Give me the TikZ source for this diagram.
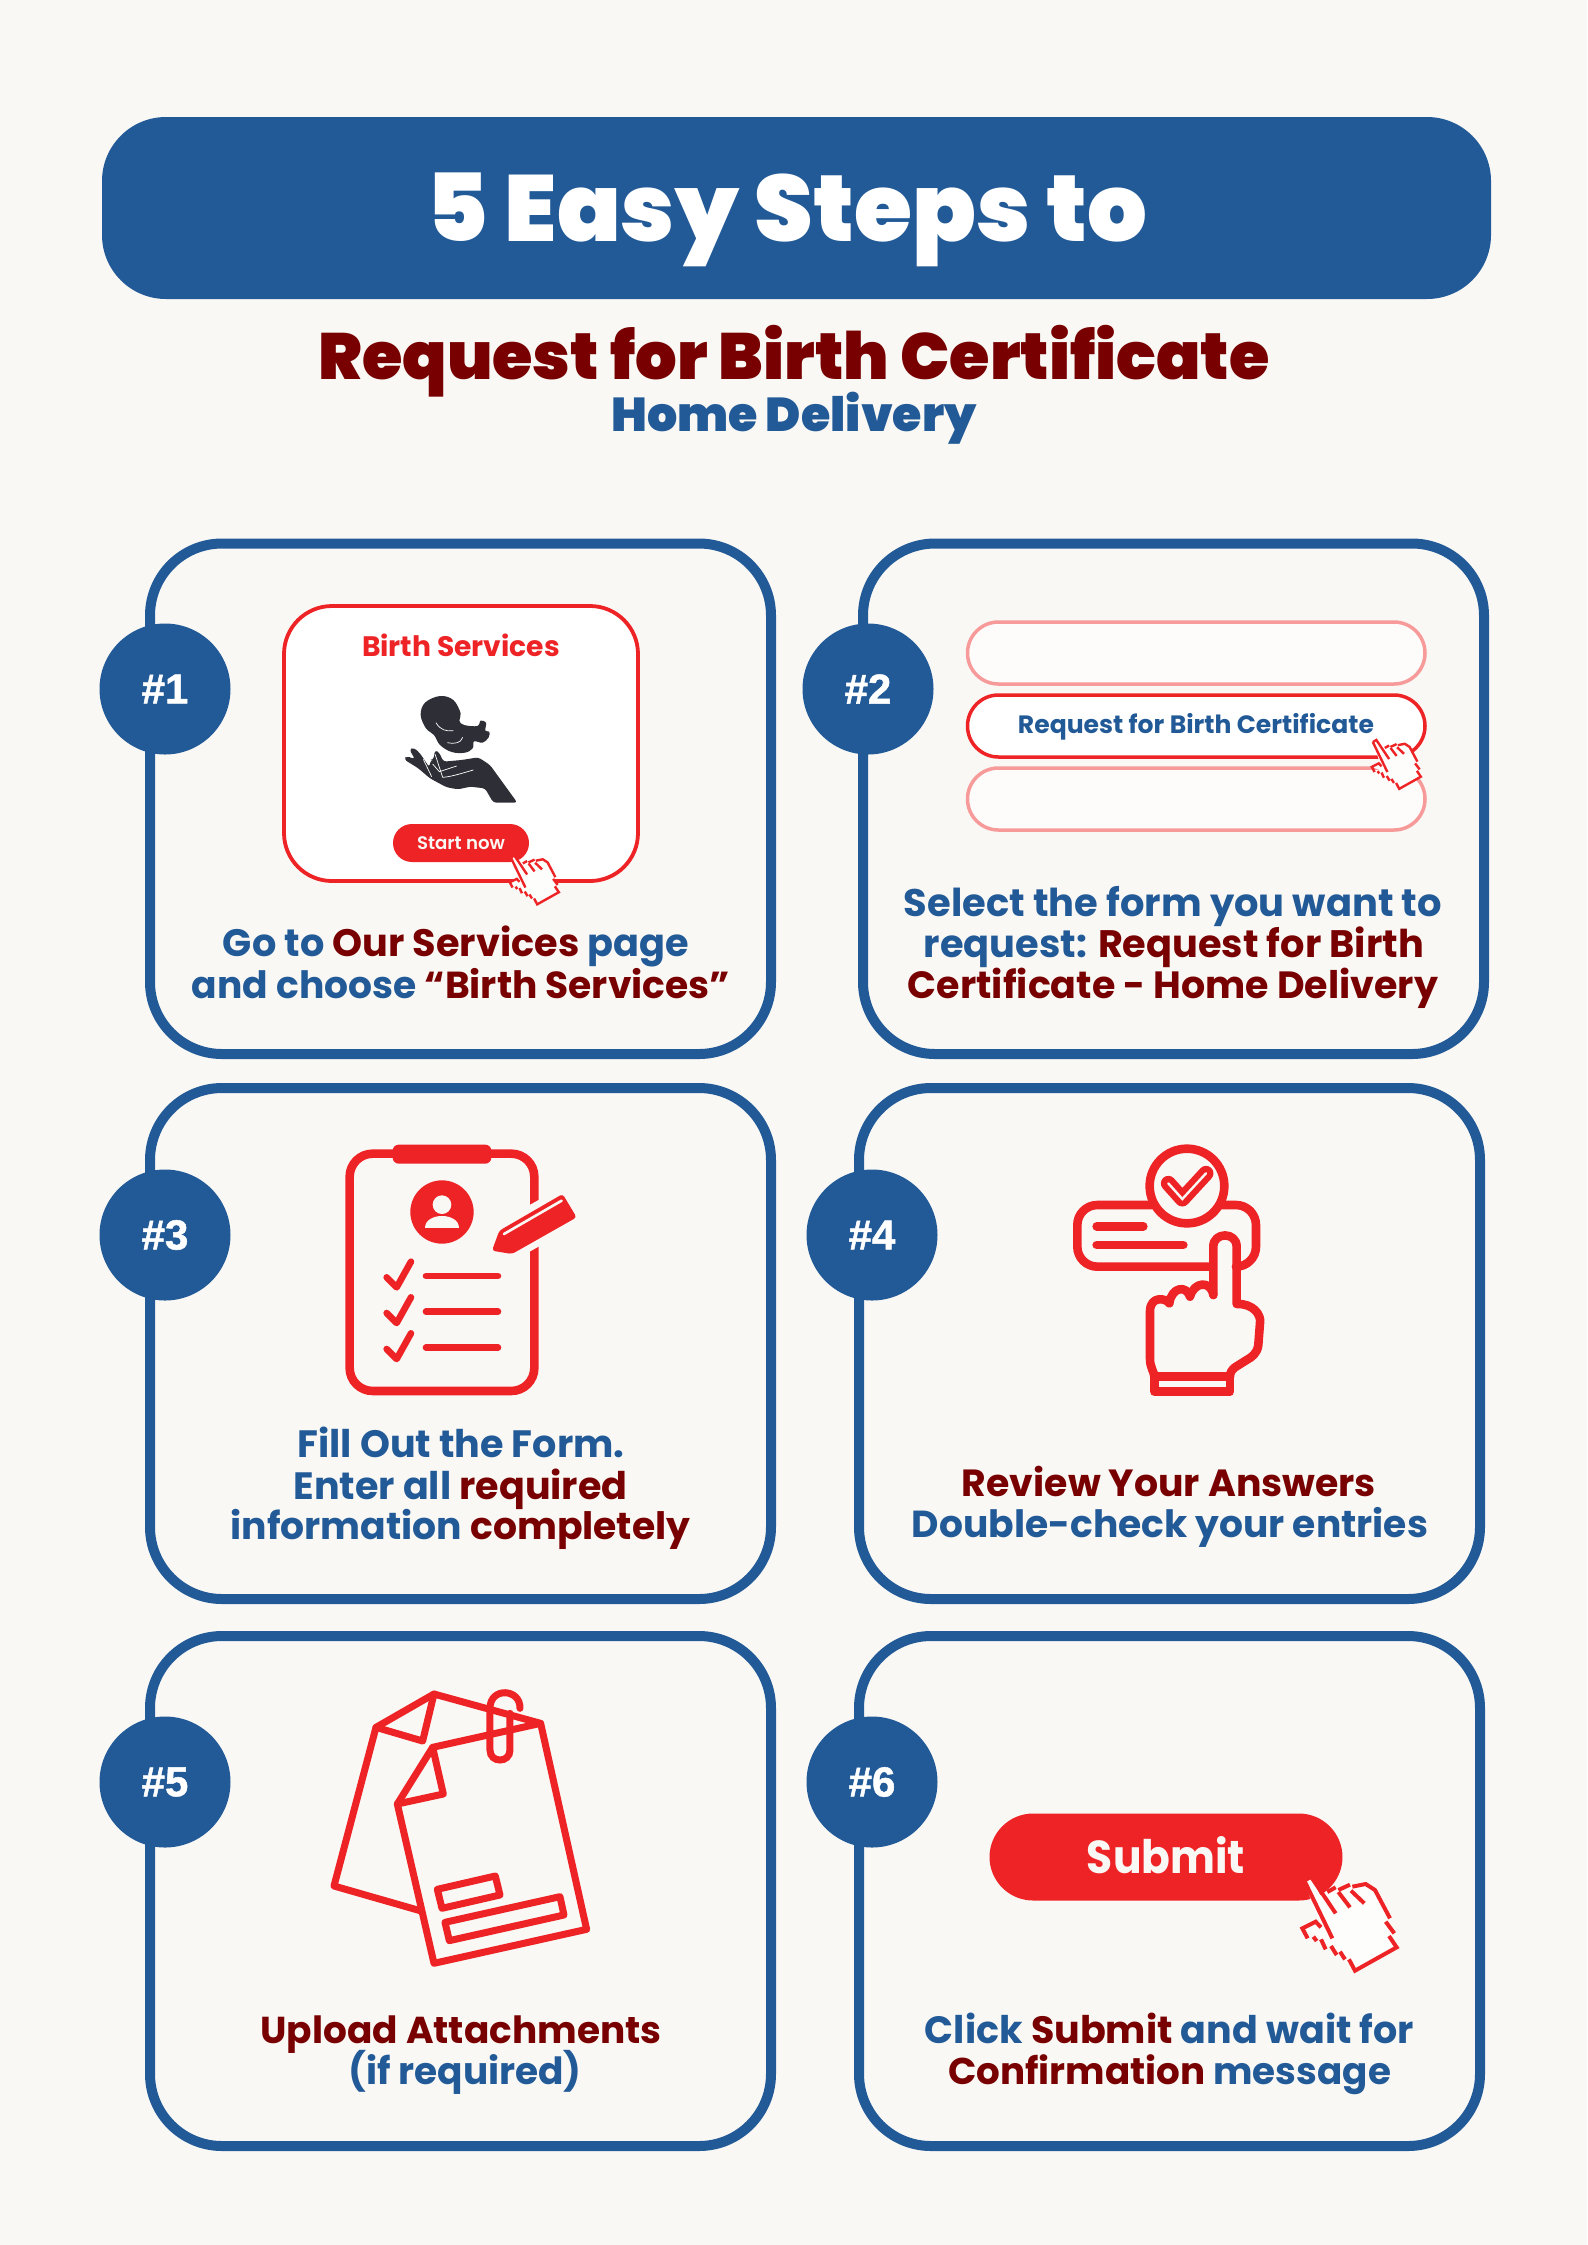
\documentclass[tikz,border=0pt]{standalone}
\usepackage{graphicx}
\usepackage{fontspec}
\setmainfont{Poppins}
\newfontfamily\fblack{Poppins Black}
\newfontfamily\fbold{Poppins Bold}
\newfontfamily\fsemi{Poppins SemiBold}
\newfontfamily\farial{Liberation Sans Bold}[FakeBold=1.2]
\definecolor{paper}{HTML}{F9F8F5}
\definecolor{navy}{HTML}{225A97}
\definecolor{wine}{HTML}{780000}
\definecolor{alert}{HTML}{EE2326}
\definecolor{pale}{HTML}{F79A9A}
\definecolor{ink}{HTML}{2D2E36}
\newdimen\pxu \pxu=0.5pt
\newcommand\fitw[2]{\resizebox{#1\pxu}{!}{#2}}
\newcommand\nv[1]{\textcolor{navy}{#1}}
\newcommand\wn[1]{\textcolor{wine}{#1}}
\tikzset{
  card/.style={draw=navy,line width=5pt,rounded corners=36pt},
  badge/.style={circle,fill=navy,text=white,minimum size=65.5pt,inner sep=0pt,font=\farial\fontsize{21}{21}\selectfont},
  caption/.style={anchor=base,inner sep=0pt,font=\fbold},
  heading/.style={anchor=base,inner sep=0pt,font=\fblack},
  redline/.style={draw=alert,line width=4.3pt,line cap=round,line join=round},
  thinred/.style={draw=alert,line width=3.3pt,line cap=round,line join=round},
  curs/.style={draw=alert,line cap=butt,line join=miter},
}
% pixel hand cursor: #1,#2 position, #3 scale, #4 line width
\newcommand\cursorhand[4]{%
\begin{scope}[shift={(#1,#2)},scale=#3]
\fill[white!70!paper] (28,32)--(48,20)--(78,80)--(100,60)--(120,55)--(165,45)--(205,45)--(240,60)--(290,150)--(275,155)--(300,190)--(285,200)--(305,230)--(180,302)--(165,270)--(145,265)--(130,250)--(110,235)--(85,210)--(60,190)--(22,175)--(60,155)--(75,170)--cycle;
\draw[curs,line width=#4] (28,32)--(48,20)--(122,130);
\draw[curs,line width=#4] (28,32)--(112,205);
\draw[curs,line width=#4] (97,66)--(122,52);
\draw[curs,line width=#4] (130,66)--(165,112);
\draw[curs,line width=#4] (130,60)--(165,44);
\draw[curs,line width=#4] (168,62)--(208,100);
\draw[curs,line width=#4] (172,50)--(212,42)--(240,60)--(285,145);
\draw[curs,line width=#4] (272,155)--(298,190);
\draw[curs,line width=#4] (282,198)--(305,232)--(180,302)--(162,268);
\draw[curs,line width=#4] (135,245)--(150,268);
\draw[curs,line width=#4] (108,228)--(125,255);
\draw[curs,line width=#4] (78,208)--(92,238);
\draw[curs,line width=#4] (55,200)--(65,213);
\draw[curs,line width=#4] (38,205)--(22,175)--(62,155)--(78,172);
\end{scope}}
\begin{document}
\begin{tikzpicture}[x=0.5pt,y=-0.5pt]
\fill[paper] (0,0) rectangle (1587,2245);
\useasboundingbox (0,0) rectangle (1587,2245);

% header
\fill[navy,rounded corners=32pt] (102,117) rectangle (1491,299);
\node[heading,text=white] (title) at (787,241) {\fitw{720}{5 Easy Steps to}};
\node[heading,text=wine] (sub) at (794,379) {\fitw{951}{Request for Birth Certificate}};
\node[heading,text=navy] (sub2) at (794,431) {\fitw{365}{Home Delivery}};

% cards
\draw[card] (150,543.5) rectangle (771,1054);
\draw[card] (863,543.5) rectangle (1484,1054);
\draw[card] (150,1088) rectangle (771,1599);
\draw[card] (859,1088) rectangle (1480,1599);
\draw[card] (150,1636) rectangle (771,2146);
\draw[card] (859,1636) rectangle (1480,2146);

% badges
\node[badge] (b1) at (165,689) {\#1};
\node[badge] (b2) at (868,689) {\#2};
\node[badge] (b3) at (165,1235) {\#3};
\node[badge] (b4) at (872,1235) {\#4};
\node[badge] (b5) at (165,1782) {\#5};
\node[badge] (b6) at (872,1782) {\#6};

% card 1 artwork
\draw[alert,fill=white,line width=1.9pt,rounded corners=24pt] (284,606) rectangle (638,881);
\node[anchor=base,inner sep=0pt,text=alert,font=\fbold] (bs) at (461,656) {\fitw{198}{Birth Services}};
\fill[alert,rounded corners=9.5pt] (393,824) rectangle (529,862);
\node[anchor=base,inner sep=0pt,text=paper,font=\fsemi] (sn) at (461,849) {\fitw{88}{Start now}};
\begin{scope}[shift={(390,680)},scale=0.3333]
\fill[ink] plot[smooth cycle,tension=0.6] coordinates {(150,48)(190,60)(212,100)(208,122)(222,135)(262,138)(272,122)(288,128)(286,152)(298,155)(296,172)(278,188)(252,184)(248,205)(225,218)(185,216)(150,195)(132,165)(108,145)(92,105)(105,68)};
\fill[ink,rounded corners=1.5pt] (382,368)--(310,368)--(285,325)--(240,320)--(205,328)--(170,322)--(120,295)--(85,265)--(42,238)--(50,228)--(75,238)--(58,208)--(72,203)--(90,220)--(118,262)--(122,240)--(130,240)--(135,210)--(148,218)--(160,245)--(215,240)--(265,232)--(300,255)--cycle;
\draw[white,line width=0.35pt] (138,128) .. controls (150,150) and (170,155) .. (190,152);
\draw[white,line width=0.35pt] (218,172) .. controls (212,190) and (195,192) .. (172,188);
\draw[white,line width=0.35pt] (100,238) -- (125,290);
\draw[white,line width=0.35pt] (135,222) -- (158,292) .. controls (185,290) and (215,280) .. (250,270);
\draw[white,line width=0.35pt] (128,252) -- (148,275) -- (200,258);
\end{scope}
\cursorhand{506}{852}{0.1733}{1.2pt}
\node[caption] (c1a) at (456,956) {\fitw{466}{\nv{Go to} \wn{Our Services} \nv{page}}};
\node[caption] (c1b) at (461,998) {\fitw{538}{\nv{and choose} \wn{“Birth Services”}}};

% card 2 artwork
\draw[pale,fill=white!60!paper,line width=1.75pt,rounded corners=15.5pt] (967.5,622) rectangle (1425,684);
\draw[alert,fill=white,line width=1.75pt,rounded corners=15.5pt] (967.5,695) rectangle (1425,757);
\draw[pale,fill=white!60!paper,line width=1.75pt,rounded corners=15.5pt] (967.5,768) rectangle (1425,830);
\node[anchor=base,inner sep=0pt,text=navy,font=\fbold] (rb) at (1196,733) {\fitw{356}{Request for Birth Certificate}};
\cursorhand{1368}{736.5}{0.1733}{1.2pt}
\node[caption] (c2a) at (1173,916) {\fitw{538}{\nv{Select the form you want to}}};
\node[caption] (c2b) at (1174,957) {\fitw{500}{\nv{request:} \wn{Request for Birth}}};
\node[caption] (c2c) at (1173,998) {\fitw{530}{\wn{Certificate - Home Delivery}}};

% card 3 artwork
\begin{scope}[shift={(300,1120)},scale=0.3333]
\draw[alert,line width=4.3pt,rounded corners=11.5pt] (149,101) rectangle (703,813);
\fill[paper] (680,260)--(730,232)--(730,372)--(680,400)--cycle;
\fill[alert,rounded corners=3pt] (278,74) rectangle (574,131);
\fill[alert] (426,276) circle (95);
\fill[paper] (426,254) circle (28);
\fill[paper] (375,325) .. controls (375,275) and (478,275) .. (478,325) -- cycle;
\foreach \d in {0,107,215}{
  \draw[thinred] (260,472+\d)--(290,502+\d)--(333,425+\d);
  \draw[thinred] (378,468+\d)--(594,468+\d);
}
\fill[alert,rounded corners=1.5pt] (788,222)--(830,292)--(636,402)--(576,392)--(598,332)--cycle;
\draw[paper,line width=1.3pt,line cap=round] (612,342)--(785,242);
\end{scope}
\node[caption] (c3a) at (461,1457) {\fitw{327}{\nv{Fill Out the Form.}}};
\node[caption] (c3b) at (460.5,1499) {\fitw{334}{\nv{Enter all} \wn{required}}};
\node[caption] (c3c) at (460.5,1539) {\fitw{460}{\nv{information} \wn{completely}}};

% card 4 artwork
\begin{scope}[shift={(1040,1120)},scale=0.3333]
\draw[redline,rounded corners=10pt] (335,255)--(112,255)--(112,440)--(515,440);
\draw[redline,rounded corners=10pt] (545,255)--(648,255)--(648,440)--(595,440);
\draw[redline] (441,198) circle (112);
\draw[alert,line width=7.5pt,line cap=round,line join=round] (385,190)--(427,237)--(498,160);
\draw[paper,line width=1.2pt,line cap=round,line join=miter] (385,190)--(427,237)--(498,160);
\draw[redline] (170,319)--(310,319);
\draw[redline] (170,375)--(430,375);
\draw[redline] (520,525)--(520,380) .. controls (520,335) and (590,335) .. (590,380)--(590,552) .. controls (640,550) and (665,585) .. (660,610)--(655,675) .. controls (652,700) and (635,712) .. (620,720)--(585,742) .. controls (575,750) and (570,758) .. (570,770);
\draw[redline] (520,525) .. controls (512,480) and (462,485) .. (450,530) .. controls (440,495) and (395,500) .. (388,550) .. controls (380,535) and (330,525) .. (330,575)--(330,715) .. controls (330,745) and (343,755) .. (343,770);
\draw[redline] (343,770) rectangle (570,815);
\end{scope}
\node[caption] (c4a) at (1169,1496) {\fitw{414}{\wn{Review Your Answers}}};
\node[caption] (c4b) at (1170,1537) {\fitw{516}{\nv{Double-check your entries}}};

% card 5 artwork
\begin{scope}[shift={(310,1670)},scale=0.3333]
\draw[alert,line width=3.5pt,line join=round,line cap=round] (330,722)--(72,648)--(198,172)--(372,72)--(692,160);
\draw[alert,line width=3.5pt,line join=round,line cap=round] (198,172)--(338,213)--(372,72);
\draw[alert,line width=3.5pt,line join=round,line cap=round] (368,232)--(692,160)--(830,778)--(372,880)--(262,402)--cycle;
\draw[alert,line width=3.5pt,line join=round,line cap=round] (368,232)--(400,372)--(262,402);
\draw[alert,line width=3.5pt,line join=round] (382,658)--(556,618)--(570,675)--(396,715)--cycle;
\draw[alert,line width=3.5pt,line join=round] (405,757)--(750,680)--(762,735)--(418,812)--cycle;
\draw[alert,line width=3.5pt,line cap=round] (630,115) .. controls (632,55) and (540,50) .. (540,115)--(540,240) .. controls (540,280) and (600,280) .. (600,240)--(600,130);
\end{scope}
\node[caption] (c5a) at (461,2043) {\fitw{401}{\wn{Upload Attachments}}};
\node[caption] (c5b) at (465,2084) {\fitw{233.5}{\nv{(if required)}}};

% card 6 artwork
\fill[alert,rounded corners=21.8pt] (989.5,1813.5) rectangle (1342.5,1900.5);
\node[anchor=base,inner sep=0pt,text=paper,font=\fbold] (sb) at (1166,1873) {\resizebox{158\pxu}{37\pxu}{Submit}};
\cursorhand{1295}{1870}{0.3333}{2pt}
\node[caption] (c6a) at (1169.5,2043) {\fitw{489}{\nv{Click} \wn{Submit} \nv{and wait for}}};
\node[caption] (c6b) at (1169.5,2084) {\fitw{443}{\wn{Confirmation} \nv{message}}};
\end{tikzpicture}
\end{document}
